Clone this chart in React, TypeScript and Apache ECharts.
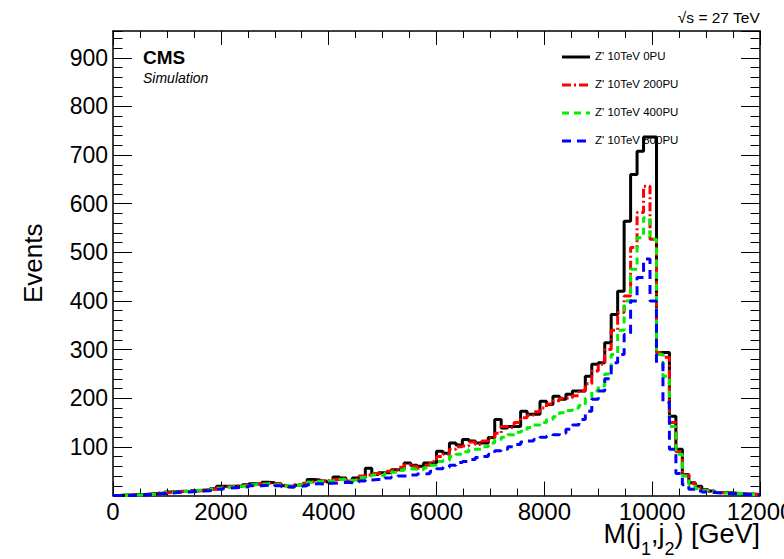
import React, { useEffect, useRef } from "react";
import * as echarts from "echarts";

// Histogram binning: 100 bins of 120 GeV from 0 to 12000 GeV
const binLow = 0;
const binWidth = 120;

const seriesNames = ["Z' 10TeV 0PU", "Z' 10TeV 200PU", "Z' 10TeV 400PU", "Z' 10TeV 800PU"];
const seriesColors = ["#000000", "#ff0000", "#00ee00", "#0000ff"];

const events0PU = [
  0, 1, 1, 2, 2, 3, 4, 5, 7, 8,
  9, 8, 10, 11, 12, 14, 19, 19, 19, 19,
  22, 24, 23, 27, 26, 24, 20, 18, 21, 22,
  33, 32, 30, 28, 38, 36, 27, 36, 36, 56,
  43, 47, 47, 53, 53, 67, 62, 60, 67, 67,
  91, 87, 108, 104, 115, 112, 108, 108, 119, 156,
  139, 142, 142, 173, 167, 167, 194, 187, 204, 198,
  208, 215, 215, 245, 270, 273, 314, 372, 420, 564,
  660, 708, 737, 737, 294, 294, 163, 95, 43, 26,
  19, 12, 9, 6, 6, 5, 4, 3, 3, 2,
];

const events200PU = [
  0, 0, 1, 1, 2, 3, 3, 5, 6, 8,
  8, 9, 9, 10, 12, 13, 16, 18, 17, 20,
  21, 22, 24, 23, 25, 23, 21, 19, 22, 25,
  28, 30, 29, 31, 33, 35, 30, 33, 40, 42,
  45, 44, 50, 52, 58, 63, 60, 56, 62, 70,
  80, 85, 95, 100, 102, 110, 105, 112, 118, 128,
  142, 140, 150, 160, 165, 172, 180, 188, 195, 200,
  201, 205, 215, 230, 256, 270, 300, 340, 376, 410,
  510, 582, 636, 527, 294, 284, 150, 90, 42, 25,
  16, 11, 8, 6, 5, 4, 4, 3, 2, 2,
];

const events400PU = [
  0, 0, 1, 1, 2, 2, 3, 4, 6, 7,
  8, 8, 9, 11, 11, 13, 15, 17, 18, 19,
  20, 22, 23, 24, 24, 22, 20, 20, 21, 23,
  27, 29, 28, 30, 31, 33, 31, 32, 37, 40,
  42, 41, 46, 48, 52, 55, 54, 53, 57, 62,
  70, 72, 80, 85, 90, 95, 95, 100, 108, 115,
  120, 125, 130, 132, 140, 145, 150, 156, 162, 170,
  175, 180, 185, 200, 215, 225, 250, 290, 340, 400,
  465, 530, 571, 527, 290, 245, 142, 85, 40, 22,
  14, 10, 7, 6, 5, 4, 4, 3, 2, 2,
];

const events800PU = [
  0, 0, 0, 1, 1, 2, 3, 4, 5, 6,
  7, 7, 8, 9, 10, 11, 13, 15, 16, 17,
  18, 20, 20, 21, 22, 20, 18, 17, 19, 20,
  22, 24, 23, 25, 26, 27, 26, 27, 30, 32,
  33, 32, 36, 38, 40, 40, 42, 44, 45, 50,
  55, 58, 62, 68, 70, 74, 78, 80, 85, 92,
  95, 100, 105, 110, 112, 115, 120, 122, 125, 128,
  136, 145, 156, 173, 198, 215, 240, 273, 290, 331,
  400, 448, 486, 400, 273, 191, 95, 45, 22, 13,
  9, 7, 6, 5, 4, 4, 3, 2, 2, 1,
];

const allEvents = [events0PU, events200PU, events400PU, events800PU];
const lineDashes: any[] = [null, [9, 3, 2, 3], [7, 5], [9, 6]];

const xMin = 0;
const xMax = 12000;
const xInterval = 2000;
const xMinorInterval = 500;
const yMin = 0;
const yMax = 955;
const yInterval = 100;
const yMinorInterval = 20;

const FONT = "Liberation Sans, Arial, Helvetica, sans-serif";

function toSteps(values: number[]) {
  const pts: [number, number][] = values.map((v, i) => [binLow + i * binWidth, v]);
  pts.push([binLow + values.length * binWidth, values[values.length - 1]]);
  return pts;
}

export default function App() {
  const ref = useRef<HTMLDivElement>(null);

  useEffect(() => {
    const chart = echarts.init(ref.current!, null, { renderer: "svg" });

    const tickStyle = { color: "#000", width: 1 };
    const mkX = (position: string, interval: number, len: number, showLine: boolean, labels: boolean) => ({
      type: "value",
      position,
      min: xMin,
      max: xMax,
      interval,
      axisLine: { show: showLine, onZero: false, lineStyle: { color: "#000", width: 1.5 } },
      axisTick: { show: true, inside: true, length: len, lineStyle: tickStyle },
      splitLine: { show: false },
      axisLabel: labels
        ? {
            show: true,
            margin: 4,
            color: "#000",
            fontSize: 24,
            fontFamily: FONT,
            formatter: (v: number) => String(v),
          }
        : { show: false },
    });
    const mkY = (position: string, interval: number, len: number, showLine: boolean, labels: boolean) => ({
      type: "value",
      position,
      min: yMin,
      max: yMax,
      interval,
      axisLine: { show: showLine, onZero: false, lineStyle: { color: "#000", width: 1.5 } },
      axisTick: { show: true, inside: true, length: len, lineStyle: tickStyle },
      splitLine: { show: false },
      axisLabel: labels
        ? {
            show: true,
            margin: 5,
            color: "#000",
            fontSize: 23,
            fontFamily: FONT,
            showMinLabel: false,
            showMaxLabel: false,
            formatter: (v: number) => (v === 0 ? "" : String(v)),
          }
        : { show: false },
    });

    const yMain: any = mkY("left", yInterval, 19, true, true);
    yMain.name = "Events";
    yMain.nameLocation = "middle";
    yMain.nameGap = 67;
    yMain.nameTextStyle = { fontSize: 26, fontFamily: FONT, color: "#000" };

    const legendGraphics: any[] = [];
    seriesNames.forEach((name, k) => {
      const cy = 57 + 28 * k;
      legendGraphics.push({
        type: "line",
        shape: { x1: 562, y1: cy, x2: 590, y2: cy },
        style: { stroke: seriesColors[k], lineWidth: 3, lineDash: lineDashes[k] || null },
      });
      legendGraphics.push({
        type: "text",
        left: 595,
        top: cy - 7,
        style: { text: name, fontSize: 11.5, fontFamily: FONT, fill: "#000" },
      });
    });

    const option: any = {
      animation: false,
      backgroundColor: "#fff",
      textStyle: { fontFamily: FONT },
      grid: { left: 113, right: 24, top: 31, bottom: 63.5, containLabel: false, outerBoundsMode: "none" },
      xAxis: [
        mkX("bottom", xInterval, 14, true, true),
        mkX("top", xInterval, 14, true, false),
        mkX("bottom", xMinorInterval, 7, false, false),
        mkX("top", xMinorInterval, 7, false, false),
      ],
      yAxis: [
        yMain,
        mkY("right", yInterval, 19, true, false),
        mkY("left", yMinorInterval, 9.5, false, false),
        mkY("right", yMinorInterval, 9.5, false, false),
      ],
      series: allEvents.map((vals, k) => ({
        name: seriesNames[k],
        type: "line",
        step: "end",
        xAxisIndex: 0,
        yAxisIndex: 0,
        symbol: "none",
        showSymbol: false,
        color: seriesColors[k],
        lineStyle: { color: seriesColors[k], width: 3, type: lineDashes[k] || "solid" },
        data: toSteps(vals),
        z: 2 + k,
      })),
      graphic: [
        {
          type: "text",
          right: 24,
          top: 9,
          style: { text: "√s = 27 TeV", fontSize: 15.5, fontFamily: FONT, fill: "#000" },
        },
        {
          type: "text",
          left: 143,
          top: 48,
          style: { text: "CMS", fontSize: 19, fontWeight: "bold", fontFamily: FONT, fill: "#000" },
        },
        {
          type: "text",
          left: 143,
          top: 71,
          style: { text: "Simulation", fontSize: 14, fontStyle: "italic", fontFamily: FONT, fill: "#000" },
        },
        {
          type: "text",
          x: 760,
          y: 520,
          style: {
            text: "{a|M(j}{s|1}{a|,j}{s|2}{a|) [GeV]}",
            align: "right",
            verticalAlign: "top",
            fill: "#000",
            rich: {
              a: { fontSize: 27, fontFamily: FONT, fill: "#000", lineHeight: 38, verticalAlign: "top" },
              s: { fontSize: 18, fontFamily: FONT, fill: "#000", lineHeight: 38, verticalAlign: "bottom" },
            },
          },
        },
        ...legendGraphics,
      ],
    };

    chart.setOption(option);
    return () => chart.dispose();
  }, []);

  return (
    <div
      ref={ref}
      style={{ position: "fixed", left: 0, top: 0, width: 784, height: 559, background: "#fff" }}
    />
  );
}
